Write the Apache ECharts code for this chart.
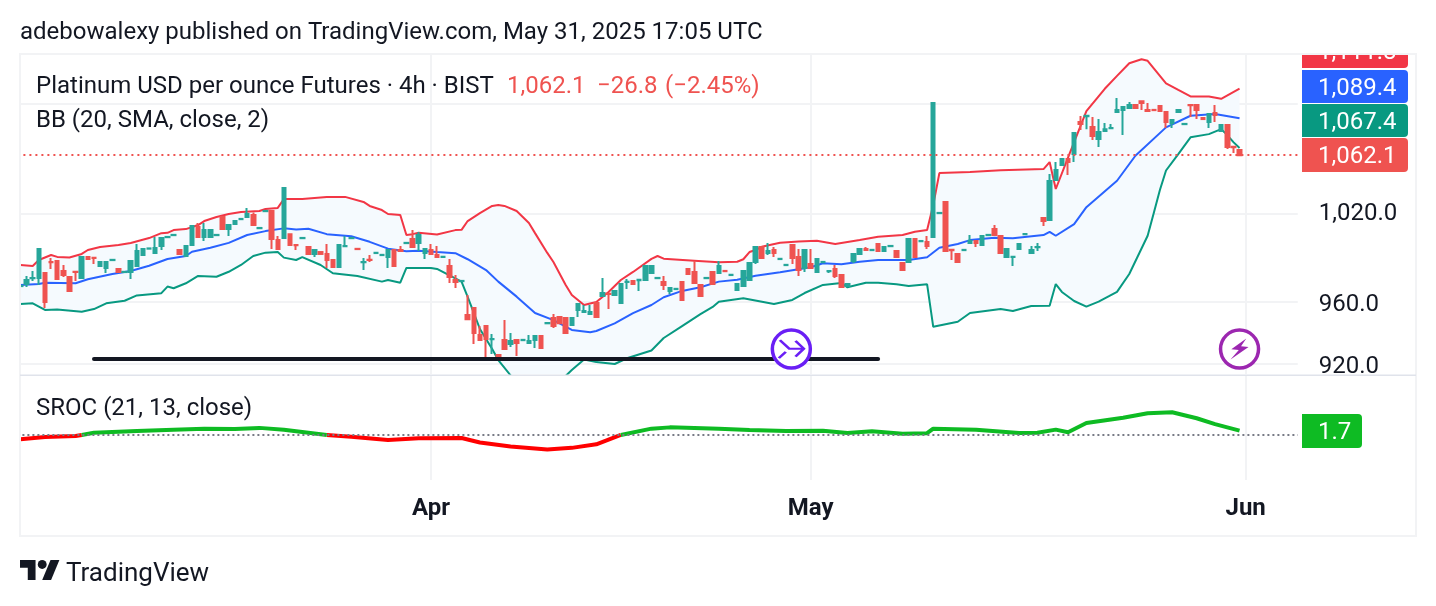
<!DOCTYPE html>
<html>
<head>
<meta charset="utf-8">
<title>Platinum USD per ounce Futures</title>
<script src="https://cdn.jsdelivr.net/npm/echarts@6/dist/echarts.min.js"></script>
<style>
  html, body { margin: 0; padding: 0; background: #fff; }
  #chart { width: 1436px; height: 606px; }
</style>
</head>
<body>
<div id="chart"></div>
<script>
// bar slots on the time axis, the month names sit on these indexes
const barSlots = 209;
const monthIndex = [67, 129, 200];
const monthNames = ['Apr', 'May', 'Jun'];

const priceTicks = [920, 960, 1020];
const priceGrid = [920, 960, 1020, 1100];

// open, close, low, high
const candles = [
[970.7,970.9,970.7,970.9],[972.1,974.8,970.1,977.5],[976,976.2,974.1,980.8],[976.1,995.8,971.5,995.8],[979.5,960.2,956.2,979.5],
[987,986.8,982.2,989.7],[987.6,975.5,975.5,987.6],[980.8,978.2,976.8,984.9],[976.8,967.5,967.5,976.8],[980.3,980.1,974.1,980.3],
[976.1,990.4,976.1,990.4],[990.4,989,989,990.4],[989.8,989.6,985.6,989.8],[984.2,986.9,984.2,986.9],[982.9,986.9,979.5,986.9],
[988.2,988.4,988.2,988.4],[982.2,980.2,980.2,982.2],[980.1,980.3,980.1,980.3],[980.2,987.6,975.5,987.6],[984.2,994.4,984.2,999.2],
[991.7,995.8,991.7,995.8],[996,996.2,996,996.2],[993.1,996.5,993.1,1004],[997.8,1003.3,995.1,1003.3],[1003.9,1004.1,1003.9,1004.1],
[1005.3,1005.5,1005.3,1005.5],[995.1,992.4,992.4,995.1],[991,997.8,991,997.8],[998.5,1011.6,998.5,1011.6],[1010.9,1004,1004,1013.7],
[1004,1008.8,1001.2,1013.7],[1004,1008.8,1004,1008.8],[1005.3,1005.5,1005.3,1005.5],[1017.9,1009.5,1009.5,1017.9],[1009.5,1012.3,1004.7,1012.3],
[1013,1015.1,1013,1015.1],[1016.4,1016.6,1016.4,1016.6],[1017.9,1020,1017.9,1024.3],[1019.3,1012.3,1012.3,1021],[1010.1,1010.3,1010.1,1010.3],
[1022,1022.2,1022,1022.2],[1022.1,1002.6,995.8,1022.1],[1001.9,995.8,995.8,1004.7],[1003.3,1038.4,1003.3,1038.4],[1006,998.5,998.5,1006],
[998.6,998.4,995.1,998.6],[1003.2,1003.4,1003.2,1003.4],[997.1,992.4,992.4,997.1],[992.4,995.1,990.4,995.1],[993.7,992.4,992.4,993.7],
[992.4,988.3,982.9,999.2],[988.3,983.6,983.6,988.3],[983.6,998.5,983.6,998.5],[997.7,997.9,997.7,1004.7],[1003.2,1003.4,1003.2,1003.4],
[995.9,995.7,995.7,995.9],[986.8,987,981.5,989.7],[988.4,988.2,986.9,991.7],[993,993.2,993,993.2],[991.6,991.8,991.6,991.8],
[990.4,995.1,982.9,995.1],[995.1,984.2,984.2,995.1],[995.1,994.4,994.4,997.8],[999.8,1000,999.8,1000],[1002.6,997.1,997.1,1008.8],
[999.9,1005.4,994.4,1007.4],[993.1,995.8,989,995.8],[995.1,992.4,992.4,999.2],[991.7,990.4,990.4,997.8],[990.3,990.5,990.3,990.5],
[984.2,976.8,972.8,989],[974.8,973.5,969.5,978.2],[974,974.2,974,974.2],[951.6,948.9,948.9,964.8],[956.2,939.9,932.8,956.2],
[938.6,935.4,935.4,944.4],[944.4,936,923.9,944.4],[935.9,936.1,926.4,939.3],[925.8,924.5,924.5,925.8],[935.4,929.6,929.6,948.3],
[932.8,934.7,930.9,939.9],[935.4,933.5,925.2,935.4],[935.3,935.5,935.3,935.5],[933.5,934.7,933.5,938.6],[935.4,938,930.3,938],
[938,930.3,930.3,938],[946.2,946.4,946.2,946.4],[949.6,944.4,943.1,952.2],[950.3,946.3,946.3,950.3],[949.6,939.9,939.9,949.6],
[945.1,949.6,945.1,949.6],[954.9,958.9,950.3,958.9],[953.6,954.2,953.6,958.2],[952.2,953.6,952.2,958.2],[959.5,950.3,950.3,959.5],
[964.2,966.1,964.2,976.1],[965.6,965.4,955.5,965.6],[964.8,967.5,964.8,967.5],[959.5,972.1,959.5,972.1],[973.4,973.6,968.8,975.5],
[974.1,972.1,972.1,974.1],[974.7,974.9,967.5,974.9],[974.8,984.2,974.8,984.2],[979.5,984.2,979.5,984.2],[976,976.2,976,976.2],
[973.5,971.5,968.1,977.5],[967.5,969.5,965.5,969.5],[968.7,968.9,968.7,968.9],[973.5,961.5,961.5,973.5],[982.2,978.8,978.8,982.2],
[980.2,972.8,972.8,987.6],[971.5,964.2,964.2,971.5],[976,976.2,976,976.2],[980.2,972.1,972.1,980.2],[979.5,984.2,979.5,987.6],
[980.9,980.7,980.7,980.9],[978.1,978.3,978.1,978.3],[968.1,972.1,968.1,972.1],[970.8,980.8,970.8,980.8],[974.8,986.3,974.8,986.3],
[986.9,997.1,985.6,997.1],[997.1,989.7,989.7,997.1],[993.1,994.4,991.7,999.9],[995.1,993.1,990.4,997.1],[988.9,989.1,988.9,989.1],
[984.8,985,984.8,985],[998.5,989.7,985.6,998.5],[990.4,981.5,977.5,995.8],[982.9,995.1,980.2,995.1],[985.6,982.9,982.9,995.8],
[980.2,989,980.2,989],[986.8,987,986.8,987],[980.7,980.9,979.5,980.9],[982.2,977.5,976.1,984.9],[978.2,970.1,970.1,978.2],
[970.8,972.1,970.8,972.1],[987.6,992.4,986.3,992.4],[992.4,995.8,992.4,995.8],[995.8,995.1,995.1,997.1],[995,995.2,995,995.2],
[999.2,994.4,994.4,999.2],[994.4,997.1,994.4,997.1],[997.7,997.9,997.7,997.9],[994.4,990.4,990.4,994.4],[986.3,981.5,981.5,986.3],
[986.9,1002.6,986.9,1002.6],[1002.6,990.4,990.4,1002.6],[1001.1,1001.3,1001.1,1001.3],[1000.5,997.8,995.8,1004.7],[1004,1100.8,1004,1100.8],
[1020.6,1020.8,1020.6,1020.8],[1028.5,994.4,994.4,1028.5],[995.2,995,988.3,995.2],[992.4,986.9,986.9,992.4],[995,995.2,995,995.2],
[999.9,1001.2,999.9,1005.4],[1001.2,999.9,997.1,1001.2],[998.5,1004.7,998.5,1004.7],[1005.3,1005.5,1005.3,1005.5],[1009.5,1005.4,1005.4,1012.3],
[1004.7,993.1,993.1,1004.7],[990.4,995.8,990.4,995.8],[990.3,990.5,984.2,990.5],[995.8,999.2,995.8,999.2],[1005.9,1006.1,1005.9,1006.1],
[993.1,995.1,993.1,997.8],[997,997.2,994.4,999.9],[1017.2,1015.1,1011.6,1017.2],[1015.8,1043.4,1015.8,1048.4],[1044.1,1051.3,1044.1,1057.1],
[1054.9,1059.3,1054.9,1059.3],[1059.3,1057.1,1047.7,1059.3],[1062.9,1078.4,1057.1,1078.4],[1086.6,1085.1,1080.6,1091.1],[1091,1091.2,1081.3,1091.2],
[1082.8,1076.2,1073.2,1090.3],[1073.9,1079.1,1068.1,1088.8],[1079.9,1081.3,1079.9,1085.9],[1082,1082.2,1082,1085.1],[1094.1,1095.6,1094.1,1104.6],
[1095.6,1097.8,1076.9,1097.8],[1097.1,1099.3,1097.1,1101.6],[1099.3,1097.1,1097.1,1099.3],[1102.3,1100.8,1095.6,1102.3],[1095.6,1094.8,1094.8,1100.8],
[1095.7,1095.5,1095.5,1095.7],[1098.6,1094.8,1094.8,1098.6],[1094.1,1086.6,1082.1,1094.1],[1085.9,1088.1,1082.1,1088.1],[1094.1,1095.6,1094.1,1095.6],
[1085,1085.2,1085,1085.2],[1099.4,1099.2,1090.3,1099.4],[1099.3,1095.6,1088.8,1099.3],[1089.6,1088.8,1088.8,1089.6],[1086.6,1092.6,1082.1,1092.6],
[1093.3,1091.8,1086.6,1099.3],[1079.9,1084.3,1079.9,1084.3],[1084.3,1068.1,1066.6,1084.3],[1068.2,1068,1063.7,1068.2],[1065.9,1062.1,1062.1,1065.9]
];

// Bollinger bands, [bar, price] at the turning points
const bbUpper = [[0,984.9],[2,984.2],[3,988.3],[5,991.7],[6,990.4],[8,990],[10,992.4],[11,995.1],[13,997.1],[16,998.5],[18,999.9],[21,1003.3],[23,1006.7],[24,1006.9],[25,1008.8],[27,1009.5],[29,1012.3],[30,1015.1],[32,1017.9],[34,1020],[36,1021.4],[39,1022.1],[40,1023.5],[42,1024.3],[43,1030.6],[46,1030.6],[50,1032.1],[53,1032.1],[56,1028.5],[57,1025.7],[59,1022.8],[60,1020],[62,1019.3],[63,1005.4],[64,1006],[65,1006.9],[68,1005.7],[71,1008.8],[72,1009],[73,1015.1],[75,1020.7],[77,1025.7],[78,1026.4],[79,1025.7],[81,1022.1],[83,1013.7],[84,1006.7],[86,993.1],[87,986.9],[89,971.5],[90,964.8],[92,958.2],[94,960.2],[96,966.8],[98,974.8],[100,980.2],[103,989],[104,991],[105,989.2],[110,987.8],[114,986.7],[117,987.1],[118,988.8],[119,993.7],[120,995.1],[121,997.3],[124,1000],[127,1001],[130,1001.4],[133,999.2],[137,1001.9],[140,1004.2],[144,1005.4],[146,1007.6],[148,1008.8],[149,1026.4],[150,1049.1],[155,1049.9],[160,1051.1],[167,1052],[168,1057.1],[169,1037.7],[171,1060.4],[174,1094.8],[177,1111.7],[179,1121.6],[181,1131.4],[183,1134.5],[184,1133.3],[187,1115.9],[189,1110.8],[191,1105.9],[194,1105.9],[196,1104.1],[199,1111.8]];
const bbBasis = [[0,971.5],[3,972.1],[4,973],[9,972.6],[11,975.3],[15,978.8],[18,980.8],[21,984.4],[24,989],[27,991],[28,993.9],[31,996.6],[34,1000],[37,1005.4],[40,1008.1],[43,1010],[45,1009.3],[47,1009.7],[50,1006],[54,1004.5],[57,1000.7],[60,996],[63,994.2],[65,994.6],[68,993.7],[71,992.9],[73,988.8],[76,981.5],[78,973.7],[81,963.7],[84,952.9],[87,948.3],[90,941.9],[93,940.4],[94,941.2],[97,946.2],[100,952.9],[103,958.2],[105,963.3],[108,967.5],[111,969.9],[114,973.7],[117,975],[120,977.7],[124,980],[129,983.4],[131,986.1],[134,985.4],[137,987.1],[140,988.3],[145,988.3],[148,990.2],[150,996.6],[153,999.2],[155,1001.9],[159,1003.5],[162,1003.1],[167,1005.4],[168,1007.6],[169,1004.9],[172,1013],[174,1024.8],[179,1043.6],[182,1061.7],[187,1082.6],[191,1091.3],[195,1092.6],[199,1089.4]];
const bbLower = [[0,958.9],[2,959.3],[4,954.9],[6,955.3],[10,953.8],[12,955.5],[14,959.3],[17,961],[19,964.5],[23,966],[24,970.4],[25,969.3],[27,972.6],[29,977.5],[32,977],[34,980.3],[36,984.9],[38,991],[40,993.3],[42,993.7],[43,989.9],[45,988.3],[46,990.2],[49,984.9],[51,979.3],[55,977.5],[59,973.7],[60,974.8],[62,973],[63,982.9],[67,982.9],[68,982.2],[72,973.7],[73,963.5],[74,953],[75,942.5],[77,929.6],[78,922.6],[80,913],[81,907.4],[83,902.4],[86,898.7],[88,901.2],[89,912.6],[90,916.3],[92,923],[94,921.3],[97,920.1],[99,923.7],[103,928.7],[105,936.7],[108,944.4],[111,952.2],[113,956.9],[114,960.4],[118,962.6],[123,958.9],[126,961.5],[128,966.1],[131,971.5],[134,972.8],[135,969.9],[138,973],[140,973],[143,971.9],[145,970.8],[148,971.9],[149,943.9],[153,947.2],[155,952.9],[160,955.5],[162,954.2],[165,957.5],[168,957.7],[169,972.1],[170,966.8],[172,960.8],[174,957.1],[176,960.4],[179,966.9],[181,978.8],[184,1004.9],[185,1020.7],[186,1037],[187,1051],[189,1062.9],[191,1075.2],[194,1077.6],[196,1081.3],[197,1076.9],[198,1071.7],[199,1067.4]];

// SROC, the line is red below zero and green above it, a null leaves a gap
const srocBelow = [[0,-1.7],[4,-0.8],[9,-0.4],[10,0],[11,null],[50,0],[54,-0.7],[60,-2],[65,-1.3],[72,-1.2],[75,-3],[80,-4.6],[86,-5.7],[90,-5.1],[94,-3.7],[98,0]];
const srocAbove = [[10,0],[12,0.9],[19,1.6],[25,2.1],[30,2.5],[35,2.4],[39,2.8],[43,2.1],[50,0],[51,null],[98,0],[103,2.5],[106,3],[114,2.5],[119,2],[125,1.6],[131,1.7],[135,0.8],[139,1.5],[144,0.5],[148,0.7],[149,2.5],[156,2.1],[163,0.8],[166,0.9],[169,2.1],[171,1.1],[174,4.7],[180,6.8],[184,8.6],[188,9],[192,6.6],[195,4.3],[199,1.7]];

const supportLine = [[12,923.2],[140,923.2]];
const lastClose = 1062.1;

const FONT = 'Roboto';
const INK = '#131722';
const GRID = '#F2F3F5';

const categories = [];
for (let i = 0; i < barSlots; i++) {
  const m = monthIndex.indexOf(i);
  categories.push(m >= 0 ? monthNames[m] : '');
}

const chart = echarts.init(document.getElementById('chart'));

function bandFill(params, api) {
  const pts = [];
  bbUpper.forEach(p => pts.push(api.coord(p)));
  bbLower.slice().reverse().forEach(p => pts.push(api.coord(p)));
  return { type: 'polygon', shape: { points: pts }, style: { fill: '#F5FAFE' } };
}

function label(x, y, text, fill, extra) {
  return {
    type: 'text', x: x, y: y + 2, z: 20,
    style: Object.assign({ text: text, fill: fill, font: '24px ' + FONT, textVerticalAlign: 'middle' }, extra || {})
  };
}

function tag(y, h, color, text, w) {
  return [
    { type: 'rect', z: 18, shape: { x: 1302, y: y, width: w || 106, height: h, r: [0, 4, 4, 0] }, style: { fill: color } },
    { type: 'text', x: 1318, y: y + h / 2 + 2, z: 19, style: { text: text, fill: '#fff', font: '24px ' + FONT, textVerticalAlign: 'middle' } }
  ];
}

const lineBase = { type: 'line', showSymbol: false, silent: true, z: 2, animation: false };
const priceLabel = { color: INK, fontFamily: FONT, fontSize: 24 };

chart.setOption({
  animation: false,
  backgroundColor: '#fff',
  textStyle: { fontFamily: FONT },
  grid: [
    { left: 17.4, top: 54, width: 209 * 6.126, height: 320 },
    { left: 17.4, top: 375, width: 209 * 6.126, height: 105 }
  ],
  xAxis: [
    {
      type: 'category', gridIndex: 0, data: categories,
      axisLine: { show: false }, axisTick: { show: false, alignWithLabel: true }, axisLabel: { show: false },
      splitLine: { show: true, alignWithLabel: true, interval: (i, v) => v !== '', lineStyle: { color: GRID, width: 2 } }
    },
    {
      type: 'category', gridIndex: 1, data: categories,
      axisLine: { show: false }, axisTick: { show: false, alignWithLabel: true },
      axisLabel: { interval: (i, v) => v !== '', color: INK, fontFamily: FONT, fontSize: 24, fontWeight: 700, margin: 17 },
      splitLine: { show: true, alignWithLabel: true, interval: (i, v) => v !== '', lineStyle: { color: GRID, width: 2 } }
    }
  ],
  yAxis: [
    {
      type: 'log', gridIndex: 0, position: 'right', min: 913.8, max: 1138.6,
      axisLine: { show: false },
      axisTick: { show: false, customValues: priceGrid },
      axisLabel: {
        customValues: priceTicks, color: INK, fontFamily: FONT, fontSize: 24, margin: 21,
        // 960 and 920 sit right on their grid line, 1,020 a little above it
        formatter: v => {
          const s = v.toLocaleString('en-US', { minimumFractionDigits: 1, maximumFractionDigits: 1 });
          return v > 1000 ? '{high|' + s + '}' : '{low|' + s + '}';
        },
        rich: {
          high: priceLabel,
          low: Object.assign({ padding: [6, 0, 0, 0] }, priceLabel)
        }
      },
      splitLine: { show: true, lineStyle: { color: GRID, width: 2 } }
    },
    {
      type: 'value', gridIndex: 1, position: 'right', min: -17.8, max: 23.7,
      axisLine: { show: false }, axisTick: { show: false }, axisLabel: { show: false }, splitLine: { show: false }
    }
  ],
  series: [
    { type: 'custom', clip: true, silent: true, z: 1, xAxisIndex: 0, yAxisIndex: 0, data: [[0, 1000]], renderItem: bandFill },
    Object.assign({}, lineBase, { data: bbUpper, lineStyle: { color: '#F23645', width: 2 } }),
    Object.assign({}, lineBase, { data: bbBasis, lineStyle: { color: '#2962FF', width: 2 } }),
    Object.assign({}, lineBase, { data: bbLower, lineStyle: { color: '#089981', width: 2 } }),
    {
      type: 'candlestick', data: candles, barWidth: 4, z: 3, silent: true,
      itemStyle: { color: '#26A69A', color0: '#EF5350', borderColor: '#26A69A', borderColor0: '#EF5350', borderWidth: 2 },
      markLine: {
        silent: true, symbol: 'none', label: { show: false }, animation: false,
        lineStyle: { color: '#EF5350', type: [2, 4], width: 2 },
        data: [{ yAxis: lastClose }]
      }
    },
    Object.assign({}, lineBase, { data: supportLine, z: 4, lineStyle: { color: INK, width: 4, cap: 'round' } }),
    {
      type: 'scatter', symbol: 'circle', symbolSize: 38, z: 5, silent: true, clip: false,
      data: [
        { value: [126, 929.6], symbolOffset: [-1, 0], itemStyle: { opacity: 1, color: '#fff', borderColor: '#6A1FF5', borderWidth: 3.5 } },
        { value: [199, 929.6], itemStyle: { opacity: 1, color: '#fff', borderColor: '#9C27B0', borderWidth: 3.5 } }
      ]
    },
    {
      type: 'scatter', z: 6, silent: true, clip: false,
      data: [
        {
          value: [126, 929.6], symbol: 'path://M3 0L30 24L70 24M48 2L72 24L48 46M0 50L20 33', symbolSize: [25, 18], symbolOffset: [-1, 0],
          itemStyle: { opacity: 1, color: 'transparent', borderColor: '#6A1FF5', borderWidth: 2.5 }
        },
        {
          value: [199, 929.6], symbol: 'path://M42 0L2 28L22 30L0 55L48 22L28 20Z', symbolSize: [18, 21],
          itemStyle: { opacity: 1, color: '#9C27B0' }
        }
      ]
    },
    Object.assign({}, lineBase, {
      xAxisIndex: 1, yAxisIndex: 1, data: srocBelow, z: 3, lineStyle: { width: 4, color: '#FF0000' },
      markLine: {
        silent: true, symbol: 'none', label: { show: false }, animation: false,
        lineStyle: { color: '#787B86', type: [2, 3], width: 2 },
        data: [{ yAxis: 0 }]
      }
    }),
    Object.assign({}, lineBase, { xAxisIndex: 1, yAxisIndex: 1, data: srocAbove, z: 3, lineStyle: { width: 4, color: '#0EBB23' } })
  ],
  graphic: [
    // panel frame, over the plot edges
    { type: 'rect', z: 10, shape: { x: 0, y: 54, width: 19, height: 482 }, style: { fill: '#fff' } },
    ...tag(34, 34, '#F23645', '1,111.8'),
    ...tag(70, 33, '#2962FF', '1,089.4'),
    ...tag(104, 33, '#089981', '1,067.4'),
    ...tag(138, 34, '#EF5350', '1,062.1'),
    ...tag(414, 34, '#0EBB23', '1.7', 60),
    { type: 'rect', z: 21, shape: { x: 1300, y: 0, width: 136, height: 53 }, style: { fill: '#fff' } },
    { type: 'rect', z: 22, shape: { x: 20, y: 54, width: 1396, height: 482 }, style: { fill: 'none', stroke: GRID, lineWidth: 2 } },
    { type: 'rect', z: 22, shape: { x: 20, y: 374.5, width: 1396, height: 1.5 }, style: { fill: '#E0E3EB' } },

    label(20, 31, 'adebowalexy published on TradingView.com, May 31, 2025 17:05 UTC', INK),
    label(36, 85, 'Platinum USD per ounce Futures · 4h · BIST', INK),
    label(507, 85, '1,062.1', '#EF5350'),
    label(597, 85, '−26.8', '#EF5350'),
    label(665, 85, '(−2.45%)', '#EF5350'),
    label(36, 119, 'BB (20, SMA, close, 2)', INK),
    label(36, 407, 'SROC (21, 13, close)', INK),

    // TradingView logo
    {
      type: 'polygon', x: 20, y: 555.6, scaleX: 1.11, scaleY: 1.11, z: 20,
      shape: { points: [[14, 22], [7, 22], [7, 11], [0, 11], [0, 4], [14, 4]] }, style: { fill: INK }
    },
    {
      type: 'polygon', x: 20, y: 555.6, scaleX: 1.11, scaleY: 1.11, z: 20,
      shape: { points: [[28, 22], [20, 22], [27.5, 4], [35.5, 4]] }, style: { fill: INK }
    },
    { type: 'circle', x: 20, y: 555.6, scaleX: 1.11, scaleY: 1.11, z: 20, shape: { cx: 20, cy: 8, r: 4 }, style: { fill: INK } },
    label(66, 572, 'TradingView', INK, { font: '26px ' + FONT })
  ]
});
</script>
</body>
</html>
